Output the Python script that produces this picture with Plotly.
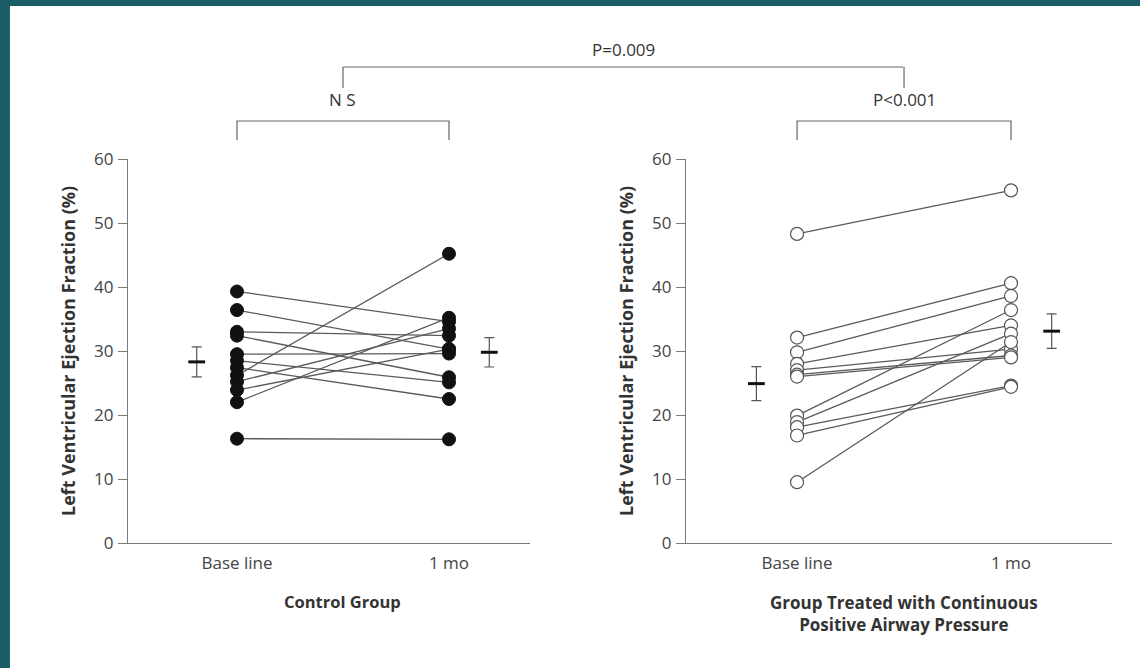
import plotly.graph_objects as go

# ---------------- data ----------------
categories = ["Base line", "1 mo"]

control_baseline = [39.3, 36.4, 33.0, 32.4, 29.5, 28.5, 27.4, 26.2, 25.2, 23.9, 22.0, 16.3]
control_1mo      = [34.6, 30.3, 32.4, 25.9, 29.6, 25.1, 22.5, 45.2, 33.5, 30.3, 35.2, 16.2]

cpap_baseline = [48.3, 32.1, 29.8, 28.0, 27.0, 26.3, 26.0, 19.9, 18.9, 18.1, 16.8, 9.5]
cpap_1mo      = [55.1, 40.6, 38.6, 34.0, 30.3, 29.3, 29.0, 36.4, 32.7, 24.6, 24.4, 31.4]

control_mean = [28.3, 29.8]
control_sem = [2.35, 2.3]
cpap_mean = [24.9, 33.1]
cpap_sem = [2.65, 2.7]

y_ticks = [0, 10, 20, 30, 40, 50, 60]

# ---------------- style ----------------
W, H = 1140, 668
FONT = "Open Sans"
TXT = "#333333"
AX = "#7a7a7a"
LINE = "#5a5a5a"
TEAL = "#1b5e67"
MEAN_OFFSET = 0.19

def px(x):
    return x / W

def py(y):
    return (H - y) / H

fig = go.Figure()

def add_panel(base, one, filled, mean, sem, xa, ya):
    for b, m in zip(base, one):
        fig.add_trace(go.Scatter(
            x=[0, 1], y=[b, m], mode="lines",
            line=dict(color=LINE, width=1.3),
            xaxis=xa, yaxis=ya, showlegend=False, hoverinfo="skip"))
    xs = [0] * len(base) + [1] * len(one)
    ys = list(base) + list(one)
    fig.add_trace(go.Scatter(
        x=xs, y=ys, mode="markers",
        marker=dict(size=13, color="#111111" if filled else "white",
                    line=dict(color="#111111" if filled else "#555555", width=1 if filled else 1.2)),
        xaxis=xa, yaxis=ya, showlegend=False, cliponaxis=False))
    fig.add_trace(go.Scatter(
        x=[-MEAN_OFFSET, 1 + MEAN_OFFSET], y=mean, mode="markers",
        marker=dict(symbol="line-ew", size=12, line=dict(color="#111111", width=3)),
        error_y=dict(type="data", array=sem, visible=True, thickness=1.2, width=5, color="#555555"),
        xaxis=xa, yaxis=ya, showlegend=False))

add_panel(control_baseline, control_1mo, True, control_mean, control_sem, "x", "y")
add_panel(cpap_baseline, cpap_1mo, False, cpap_mean, cpap_sem, "x2", "y2")

ydom = [py(543), py(159)]
xcommon = dict(tickvals=[0, 1], ticktext=categories, showline=True, linecolor=AX, linewidth=1.2,
               showgrid=False, zeroline=False, ticks="", automargin=False, ticklabelstandoff=4,
               tickfont=dict(family=FONT, size=17, color="#444444"))
ycommon = dict(range=[0, 60], tickvals=y_ticks, showline=True, linecolor=AX, linewidth=1.2,
               showgrid=False, zeroline=False, ticks="outside", ticklen=9, tickcolor=AX, tickwidth=1.2,
               automargin=False, ticklabelstandoff=1,
               tickfont=dict(family=FONT, size=17, color="#444444"), domain=ydom)

fig.update_layout(
    template="none",
    width=W, height=H, autosize=False,
    margin=dict(l=0, r=0, t=0, b=0, pad=0, autoexpand=False),
    showlegend=False,
    paper_bgcolor="white", plot_bgcolor="white",
    xaxis=dict(domain=[px(128), px(530)], range=[-0.514, 1.382], anchor="y", **xcommon),
    yaxis=dict(anchor="x", **ycommon),
    xaxis2=dict(domain=[px(686), px(1112)], range=[-0.519, 1.472], anchor="y2", **xcommon),
    yaxis2=dict(anchor="x2", **ycommon),
    font=dict(family=FONT, color=TXT),
)

shapes = [
    # teal frame (left and top)
    dict(type="rect", xref="paper", yref="paper", x0=0, x1=px(10), y0=0, y1=1,
         fillcolor=TEAL, line=dict(width=0), layer="below"),
    dict(type="rect", xref="paper", yref="paper", x0=0, x1=1, y0=py(6), y1=1,
         fillcolor=TEAL, line=dict(width=0), layer="below"),
]
bl = dict(color="#666666", width=1.2)
# within-group brackets
for xr in ["x", "x2"]:
    shapes.append(dict(type="path", xref=xr, yref="paper",
                       path=f"M 0 {py(140)} L 0 {py(121)} L 1 {py(121)} L 1 {py(140)}", line=bl))
# between-group bracket
shapes.append(dict(type="line", xref="x", yref="paper", x0=0.5, x1=0.5, y0=py(88), y1=py(67), line=bl))
shapes.append(dict(type="line", xref="x2", yref="paper", x0=0.5, x1=0.5, y0=py(88), y1=py(67), line=bl))
shapes.append(dict(type="line", xref="paper", yref="paper", x0=px(343), x1=px(903), y0=py(67), y1=py(67), line=bl))
fig.update_layout(shapes=shapes)

ann = []
def t(text, x, y, xref, size=17, bold=False, angle=0):
    ann.append(dict(text=f"<b>{text}</b>" if bold else text, x=x, y=y, xref=xref, yref="paper",
                    showarrow=False, textangle=angle,
                    font=dict(family=FONT, size=size, color=TXT),
                    xanchor="center", yanchor="middle"))

t("N S", 0.5, py(100), "x")
t("P&lt;0.001", 0.5, py(100), "x2")
t("P=0.009", px(623), py(49), "paper")
t("Left Ventricular Ejection Fraction (%)", px(68), py(351), "paper", size=18, bold=True, angle=-90)
t("Left Ventricular Ejection Fraction (%)", px(626), py(351), "paper", size=18, bold=True, angle=-90)
t("Control Group", 0.5, py(601), "x", size=16.5, bold=True)
t("Group Treated with Continuous<br>Positive Airway Pressure", 0.5, py(613), "x2", size=17, bold=True)
fig.update_layout(annotations=ann)

fig.write_html("out.html")
